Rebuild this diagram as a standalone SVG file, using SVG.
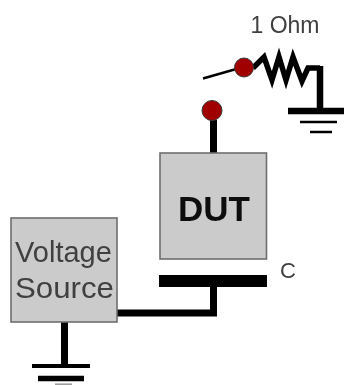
<svg xmlns="http://www.w3.org/2000/svg" width="344" height="385" viewBox="0 0 344 385">
<style>
.box{fill:#cbcbcb;stroke:#6e6e6e;stroke-width:1.6}
.w{fill:none;stroke:#000;stroke-linejoin:miter}
.dot{fill:#a00000;stroke:#3a3a3a;stroke-width:1}
text{font-family:"Liberation Sans",Arial,sans-serif}
.lab{fill:#404040}
</style>
<defs><filter id="soft" x="-5%" y="-5%" width="110%" height="110%"><feGaussianBlur stdDeviation="0.6"/></filter></defs>
<rect width="344" height="385" fill="#fff"/>
<g filter="url(#soft)">
<g id="connectors">
<path class="w" stroke-width="7" d="M117 313H213.500V281"/>
<path class="w" stroke-width="12" d="M159 281H267"/>
<path class="w" stroke-width="7" d="M64.500 322V366"/>
<path class="w" stroke-width="4" d="M32 366H90"/>
<path class="w" stroke-width="5.500" d="M38 378.500H84"/>
<path stroke="#999" stroke-width="1.500" fill="none" d="M55 384.200H72"/>
<path class="w" stroke-width="7" d="M213.500 120V153"/>
<path class="w" stroke-width="2.500" d="M203 78.500L238 68.500"/>
<path class="w" stroke-width="5.500" d="M253 68L264 57L272 80L279 57L286 80L293 57L302 81L308 68H320"/>
<path class="w" stroke-width="6.500" d="M320 66V111"/>
<path class="w" stroke-width="6.500" d="M288 111H344"/>
<path class="w" stroke-width="2.500" d="M300 122H337"/>
<path class="w" stroke-width="2.500" d="M310 132H332"/>
</g>
<g id="dut"><rect class="box" x="160" y="153" width="106.500" height="106"/><text x="214" y="221" font-size="35" font-weight="700" text-anchor="middle" fill="#111">DUT</text></g>
<g id="voltage-source"><rect class="box" x="11" y="218" width="106" height="104"/><text x="63.500" y="262" font-size="29" text-anchor="middle" class="lab">Voltage</text><text x="15" y="298" font-size="30" textLength="99" lengthAdjust="spacingAndGlyphs" class="lab">Source</text></g>
<g id="switch-contact"><circle class="dot" cx="244" cy="67.500" r="9.500"/></g>
<g id="dut-contact"><circle class="dot" cx="212" cy="110.500" r="10"/></g>
<g id="labels">
<text x="285" y="33" font-size="23" text-anchor="middle" class="lab">1 Ohm</text>
<text x="288" y="278" font-size="22" text-anchor="middle" class="lab">C</text>
</g>
</g>
</svg>
